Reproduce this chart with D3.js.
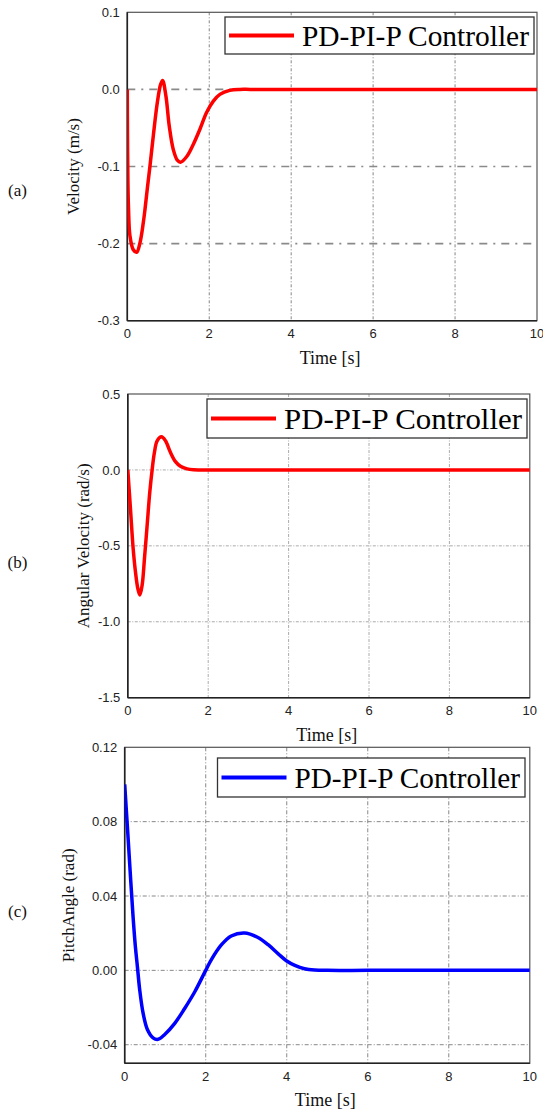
<!DOCTYPE html>
<html><head><meta charset="utf-8">
<script src="https://cdn.jsdelivr.net/npm/d3@7"></script>
<style>
html,body{margin:0;padding:0;background:#fff;}
svg{display:block;}
</style></head>
<body>
<svg id="chart" width="543" height="1113"></svg>
<script>
// ---- data ----
const xTicks = [0, 2, 4, 6, 8, 10];
const xTickLabels = ["0", "2", "4", "6", "8", "10"];

const yTicksA = [0.1, 0.0, -0.1, -0.2, -0.3];
const yTickLabelsA = ["0.1", "0.0", "-0.1", "-0.2", "-0.3"];
const timeA = [0, 0.005, 0.015, 0.03, 0.065, 0.146, 0.228, 0.309, 0.39, 0.431, 0.49, 0.553, 0.634, 0.732, 0.813, 0.862, 0.943, 1.024, 1.122, 1.22, 1.30, 1.447, 1.61, 1.77, 1.935, 2.1, 2.26, 2.5, 2.75, 3, 4, 6, 8, 10];
const velA = [0, -0.06, -0.12, -0.155, -0.19, -0.208, -0.2113, -0.199, -0.173, -0.156, -0.128, -0.0996, -0.0606, -0.0173, 0.0065, 0.0117, -0.0087, -0.0476, -0.0779, -0.0918, -0.0944, -0.0874, -0.0714, -0.052, -0.030, -0.0152, -0.0065, -0.0013, 0, 0, 0, 0, 0, 0];

const yTicksB = [0.5, 0.0, -0.5, -1.0, -1.5];
const yTickLabelsB = ["0.5", "0.0", "-0.5", "-1.0", "-1.5"];
const timeB = [0, 0.066, 0.133, 0.19, 0.249, 0.30, 0.357, 0.415, 0.481, 0.547, 0.605, 0.663, 0.73, 0.837, 0.937, 1.06, 1.186, 1.31, 1.476, 1.64, 1.8, 2, 4, 6, 8, 10];
const angVelB = [0, -0.255, -0.517, -0.67, -0.78, -0.823, -0.758, -0.583, -0.365, -0.146, 0, 0.116, 0.192, 0.218, 0.192, 0.116, 0.0546, 0.024, 0.0066, 0.0008, 0, 0, 0, 0, 0, 0];

const yTicksC = [0.12, 0.08, 0.04, 0.00, -0.04];
const yTickLabelsC = ["0.12", "0.08", "0.04", "0.00", "-0.04"];
const timeC = [0, 0.082, 0.148, 0.206, 0.263, 0.313, 0.37, 0.453, 0.56, 0.70, 0.823, 0.988, 1.235, 1.48, 1.73, 2.0, 2.14, 2.39, 2.63, 2.96, 3.29, 3.54, 3.79, 3.99, 4.2, 4.44, 4.69, 5.0, 6, 8, 10];
const pitchC = [0.10, 0.0718, 0.0486, 0.029, 0.0129, 0.0021, -0.0104, -0.0229, -0.0318, -0.0363, -0.0371, -0.0345, -0.0285, -0.0205, -0.0115, 0, 0.0058, 0.0138, 0.0185, 0.0201, 0.0177, 0.0138, 0.0089, 0.0052, 0.0027, 0.0009, 0.0002, 0, 0, 0, 0];

const legendLabel = "PD-PI-P Controller";

// ---- drawing ----
const svg = d3.select("#chart");
const serif = "'Liberation Serif','Times New Roman',serif";
const sans = "'Liberation Sans',Arial,sans-serif";

const panels = [
  {id:"a", tag:"(a)", tagY:190, x0:127.3, x1:537, y0:12.3, y1:320.7, yDom:[-0.3,0.1],
   yTicks:yTicksA, yLabels:yTickLabelsA, t:timeA, v:velA, color:"#ff0000",
   ylab:"Velocity (m/s)", ylabX:73,
   hGrid:{stroke:"#8a8a8a", w:1.6, dash:"8,6,2,6"}, vGrid:{stroke:"#777", w:0.9, dash:"3,2,1,2"},
   leg:{x:225, y:17, w:309, h:37}},
  {id:"b", tag:"(b)", tagY:562, x0:127.8, x1:529.8, y0:394, y1:697.7, yDom:[-1.5,0.5],
   yTicks:yTicksB, yLabels:yTickLabelsB, t:timeB, v:angVelB, color:"#ff0000",
   ylab:"Angular Velocity (rad/s)", ylabX:83,
   hGrid:{stroke:"#aaa", w:1, dash:"3,1.5,1,1.5"}, vGrid:{stroke:"#aaa", w:1, dash:"3,1.5,1,1.5"},
   leg:{x:207, y:399, w:320, h:39}},
  {id:"c", tag:"(c)", tagY:911, x0:124.7, x1:529.8, y0:747.3, y1:1063.3, yDom:[-0.05,0.12],
   yTicks:yTicksC, yLabels:yTickLabelsC, t:timeC, v:pitchC, color:"#0000ff",
   ylab:"PitchAngle (rad)", ylabX:67.5,
   hGrid:{stroke:"#888", w:1, dash:"4,2,1,2"}, vGrid:{stroke:"#888", w:1, dash:"4,2,1,2"},
   leg:{x:217.5, y:758, w:307.5, h:39}}
];

panels.forEach(p => {
  const g = svg.append("g");
  const x = d3.scaleLinear().domain([0,10]).range([p.x0, p.x1]);
  const y = d3.scaleLinear().domain(p.yDom).range([p.y1, p.y0]);

  // grid
  g.selectAll(".vg").data(xTicks.slice(1,-1)).join("line")
    .attr("x1", d=>x(d)).attr("x2", d=>x(d)).attr("y1", p.y0).attr("y2", p.y1)
    .attr("stroke", p.vGrid.stroke).attr("stroke-width", p.vGrid.w).attr("stroke-dasharray", p.vGrid.dash);
  const inner = p.yTicks.filter(d => d > p.yDom[0] + 1e-9 && d < p.yDom[1] - 1e-9);
  g.selectAll(".hg").data(inner).join("line")
    .attr("x1", p.x0).attr("x2", p.x1).attr("y1", d=>y(d)).attr("y2", d=>y(d))
    .attr("stroke", p.hGrid.stroke).attr("stroke-width", p.hGrid.w).attr("stroke-dasharray", p.hGrid.dash);

  // frame
  g.append("rect").attr("x", p.x0).attr("y", p.y0).attr("width", p.x1-p.x0).attr("height", p.y1-p.y0)
    .attr("fill","none").attr("stroke","#555").attr("stroke-width",1.2);
  g.append("line").attr("x1",p.x0).attr("x2",p.x0).attr("y1",p.y0).attr("y2",p.y1).attr("stroke","#222").attr("stroke-width",1.6);
  g.append("line").attr("x1",p.x0).attr("x2",p.x1).attr("y1",p.y1).attr("y2",p.y1).attr("stroke","#222").attr("stroke-width",1.6);

  // tick labels
  g.selectAll(".xt").data(xTicks).join("text")
    .attr("x", d=>x(d)).attr("y", p.y1 + 17.5).attr("text-anchor","middle")
    .attr("font-family", sans).attr("font-size", 13).attr("fill","#222")
    .text((d,i)=>xTickLabels[i]);
  g.selectAll(".yt").data(p.yTicks).join("text")
    .attr("x", p.x0 - 7.5).attr("y", d=>y(d) + 4.6).attr("text-anchor","end")
    .attr("font-family", sans).attr("font-size", 13).attr("fill","#222")
    .text((d,i)=>p.yLabels[i]);

  // axis titles
  g.append("text").attr("x", (p.x0+p.x1)/2 - 2).attr("y", p.y1 + 43).attr("text-anchor","middle")
    .attr("font-family", serif).attr("font-size", 18).attr("fill","#111").text("Time [s]");
  g.append("text").attr("transform", `translate(${p.ylabX + 6},${(p.y0+p.y1)/2}) rotate(-90)`)
    .attr("text-anchor","middle").attr("font-family", serif).attr("font-size", 17).attr("fill","#111").text(p.ylab);
  g.append("text").attr("x", 17.5).attr("y", p.tagY + 6).attr("text-anchor","middle")
    .attr("font-family", serif).attr("font-size", 17).attr("fill","#111").text(p.tag);

  // curve
  const clipId = "clip-" + p.id;
  svg.append("clipPath").attr("id", clipId).append("rect")
    .attr("x", p.x0).attr("y", p.y0 - 2).attr("width", p.x1 - p.x0).attr("height", p.y1 - p.y0 + 4);
  const pts = p.t.map((t,i)=>[t, p.v[i]]);
  g.append("path").datum(pts).attr("clip-path", `url(#${clipId})`)
    .attr("fill","none").attr("stroke", p.color).attr("stroke-width", 3.5).attr("stroke-linejoin","round")
    .attr("d", d3.line().x(d=>x(d[0])).y(d=>y(d[1])).curve(d3.curveCatmullRom.alpha(0.5)));

  // legend
  const L = p.leg;
  g.append("rect").attr("x", L.x).attr("y", L.y).attr("width", L.w).attr("height", L.h)
    .attr("fill","#fff").attr("stroke","#333").attr("stroke-width",1.3);
  g.append("line").attr("x1", L.x + 4).attr("x2", L.x + 69).attr("y1", L.y + L.h/2).attr("y2", L.y + L.h/2)
    .attr("stroke", p.color).attr("stroke-width", 4);
  g.append("text").attr("x", L.x + 77).attr("y", L.y + L.h/2 + 10)
    .attr("font-family", serif).attr("font-size", 29).attr("fill","#000")
    .attr("textLength", L.w - 82).attr("lengthAdjust","spacingAndGlyphs")
    .text(legendLabel);
});
</script>
</body></html>
